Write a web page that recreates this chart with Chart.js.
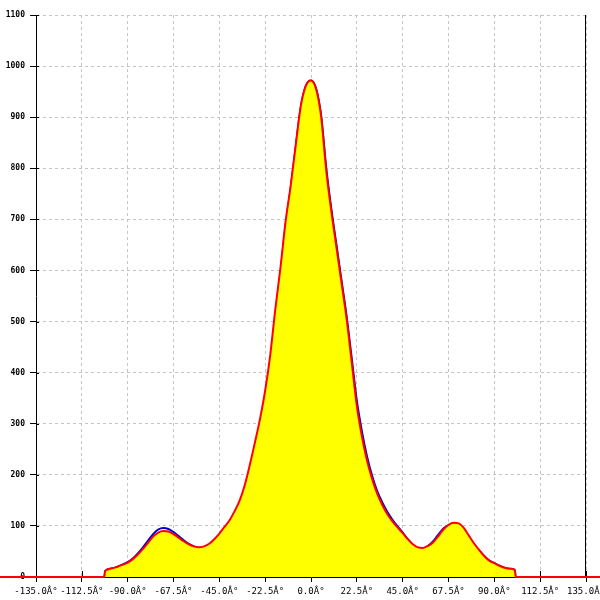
<!DOCTYPE html>
<html>
<head>
<meta charset="utf-8">
<script src="https://cdn.jsdelivr.net/npm/chart.js@4"></script>
<style>
  body { margin: 0; background: #fff; }
  #wrap { width: 600px; height: 600px; }
</style>
</head>
<body>
<div id="wrap"><canvas id="patternChart"></canvas></div>
<script>
// angle (deg) and the two measured curves
const angles = [-180, -101.5, -101,
  -97.5, -95, -92.5, -90, -87.5, -85, -82.5, -80, -77.5, -75, -72.5, -70, -67.5, -65, -62.5, -60,
  -57.5, -55, -52.5, -50, -47.5, -45, -42.5, -40, -37.5, -35, -32.5, -30, -27.5, -25, -22.5, -20,
  -17.5, -15, -12.5, -10, -7.5, -5, -2.5, 0, 2.5, 5, 7.5, 10, 12.5, 15, 17.5, 20,
  22.5, 25, 27.5, 30, 32.5, 35, 37.5, 40, 42.5, 45, 47.5, 50, 52.5, 55, 57.5, 60,
  62.5, 65, 67.5, 70, 72.5, 75, 77.5, 80, 82.5, 85, 87.5, 90, 92.5, 95, 97.5, 100,
  100.5, 180];

const redValues = [0, 0, 12,
  17, 20, 24, 28, 35, 44, 55, 67, 79, 87, 90, 89, 84, 77, 70, 64,
  60, 58, 60, 65, 74, 85, 98, 111, 129, 150, 180, 220, 264, 310, 365, 435,
  525, 605, 695, 765, 845, 922, 962, 972, 955, 900, 795, 715, 645, 575, 505, 420,
  335, 275, 228, 192, 163, 141, 123, 109, 97, 86, 74, 64, 58, 57, 61, 68,
  80, 93, 102, 106, 105, 96, 81, 66, 53, 41, 32, 27, 22, 18, 16, 14,
  0, 0];

const blueValues = [0, 0, 12,
  17, 20, 24, 29, 36, 46, 58, 71, 84, 93, 96, 94, 88, 80, 72, 65,
  60, 57, 58, 62, 70, 80, 92, 105, 122, 143, 171, 210, 253, 298, 353, 422,
  512, 595, 688, 760, 842, 920, 962, 972, 956, 902, 800, 720, 650, 580, 510, 428,
  345, 285, 236, 198, 168, 146, 127, 112, 99, 87, 74, 63, 57, 56, 61, 70,
  83, 95, 101, 102, 99, 90, 77, 64, 52, 41, 32, 27, 22, 18, 16, 14,
  0, 0];

const xMin = -135, xMax = 135, xStep = 22.5;
const yMin = 0, yMax = 1100, yStep = 100;

const toPoints = vals => angles.map((a, i) => ({ x: a, y: vals[i] }));

// short inner half of the tick marks + right frame line
const framePlugin = {
  id: 'frame',
  beforeDatasetsDraw(chart) {
    const { ctx, chartArea, scales } = chart;
    ctx.save();
    ctx.strokeStyle = '#000';
    ctx.lineWidth = 1;
    ctx.beginPath();
    ctx.moveTo(chartArea.right - 0.5, chartArea.top);
    ctx.lineTo(chartArea.right - 0.5, chartArea.bottom);
    scales.x.ticks.forEach((t, i) => {
      const px = Math.round(scales.x.getPixelForTick(i)) + 0.5;
      ctx.moveTo(px, chartArea.bottom);
      ctx.lineTo(px, chartArea.bottom - 6);
    });
    scales.y.ticks.forEach((t, i) => {
      const py = Math.round(scales.y.getPixelForTick(i)) + 0.5;
      ctx.moveTo(chartArea.left, py);
      ctx.lineTo(chartArea.left + 3, py);
    });
    ctx.stroke();
    ctx.restore();
  }
};

const ctx = document.getElementById('patternChart').getContext('2d');
const patternChart = new Chart(ctx, {
    type: 'line',
    data: {
        datasets: [{
            label: 'red',
            data: toPoints(redValues),
            borderColor: '#ff0000',
            backgroundColor: '#ffff00',
            borderWidth: 2,
            fill: 'origin',
            pointRadius: 0,
            cubicInterpolationMode: 'monotone',
            clip: false
        }, {
            label: 'blue',
            data: toPoints(blueValues),
            borderColor: '#0000cc',
            borderWidth: 2,
            fill: false,
            pointRadius: 0,
            cubicInterpolationMode: 'monotone',
            clip: false
        }]
    },
    options: {
        responsive: true,
        maintainAspectRatio: false,
        animation: false,
        layout: { padding: { top: 15, right: 14, left: 0, bottom: 0 } },
        plugins: {
            legend: { display: false },
            tooltip: { enabled: false }
        },
        scales: {
            x: {
                type: 'linear',
                min: xMin,
                max: xMax,
                afterBuildTicks: axis => {
                    const t = [];
                    for (let v = xMin; v <= xMax + 1e-9; v += xStep) t.push({ value: v });
                    axis.ticks = t;
                },
                ticks: {
                    autoSkip: false,
                    maxRotation: 0,
                    color: '#000',
                    padding: 4,
                    font: { family: "'DejaVu Sans Mono', monospace", size: 9 },
                    callback: v => v.toFixed(1) + 'Â°'
                },
                grid: {
                    color: '#c4c4c4',
                    tickColor: '#000',
                    tickLength: 5,
                    tickBorderDash: []
                },
                border: { color: '#000', width: 1, dash: [3, 3] },
                afterFit: s => { s.height = 23; s.paddingLeft = 0; s.paddingRight = 0; }
            },
            y: {
                min: yMin,
                max: yMax,
                ticks: {
                    stepSize: yStep,
                    color: '#000',
                    padding: 5,
                    font: { family: "'DejaVu Sans Mono', monospace", size: 8, weight: 'bold' },
                    callback: v => String(v)
                },
                grid: {
                    color: '#c4c4c4',
                    tickColor: '#000',
                    tickLength: 6,
                    tickBorderDash: []
                },
                border: { color: '#000', width: 1, dash: [3, 3] },
                afterFit: s => { s.width = 36; s.paddingTop = 0; s.paddingBottom = 0; }
            }
        }
    },
    plugins: [framePlugin]
});
</script>
</body>
</html>
